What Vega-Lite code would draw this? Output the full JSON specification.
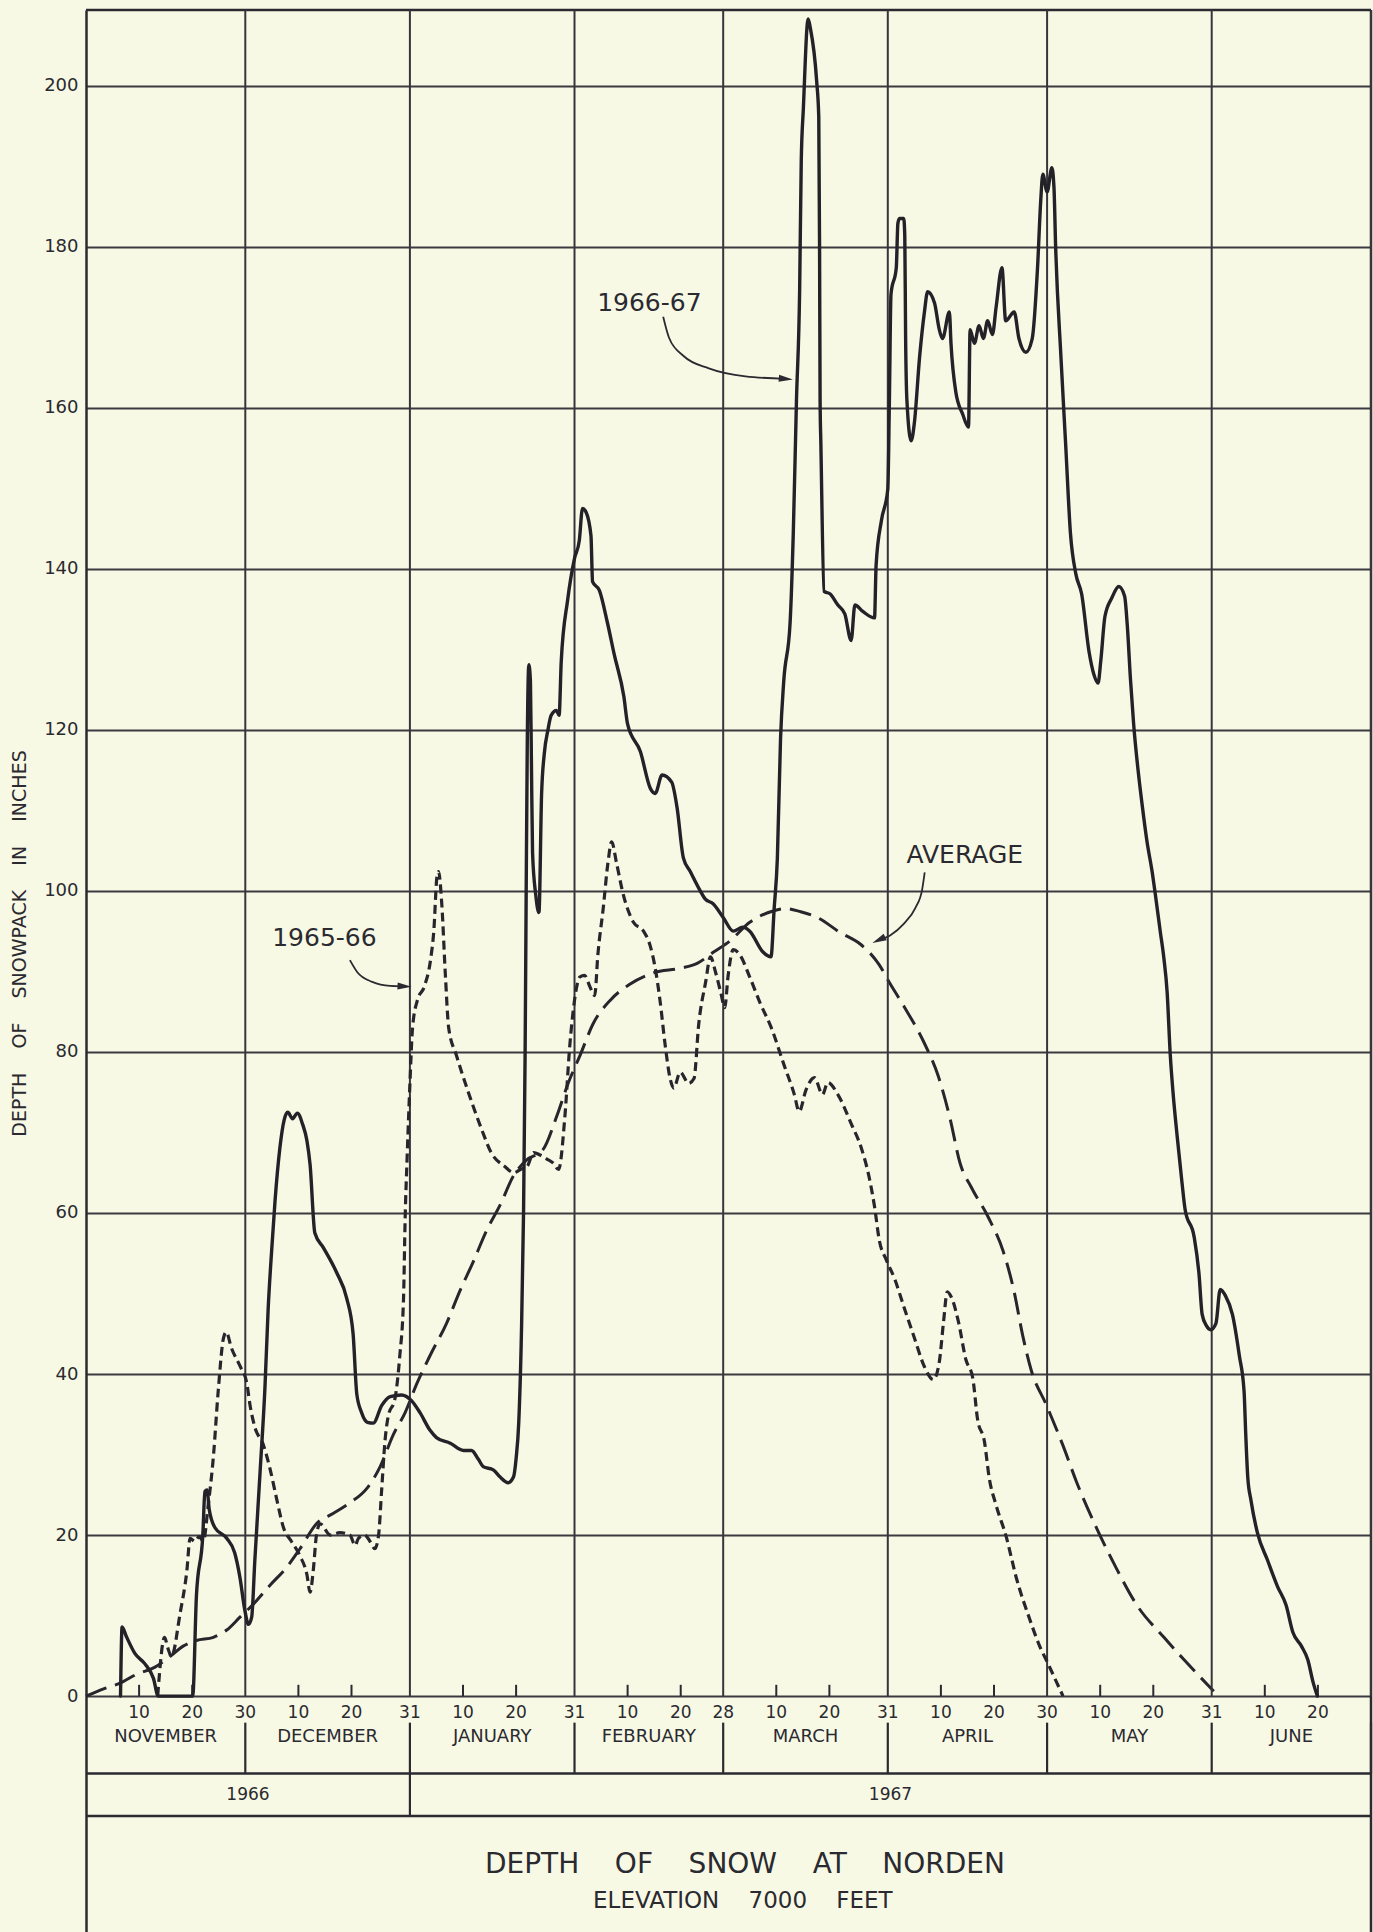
{
"$schema": "https://vega.github.io/schema/vega-lite/v6.json",
"width": 1285,
"height": 1922,
"autosize": {"type": "none"},
"padding": {"left": 86, "top": 10, "right": 2, "bottom": 0},
"background": "#F8F9E5",
"config": {"view": {"stroke": null}, "font": "DejaVu Sans", "text": {"font": "DejaVu Sans", "color": "#2a2a30"}},
"datasets": {
"s6667": [{"day":6.5,"val":0},{"day":6.8,"val":8.6},{"day":7.6,"val":7.4},{"day":9.2,"val":5.3},{"day":11.1,"val":4.0},{"day":12.7,"val":2.2},{"day":13.6,"val":0},{"day":20.1,"val":0},{"day":20.8,"val":12.5},{"day":22.0,"val":20},{"day":22.4,"val":25.4},{"day":22.8,"val":25.6},{"day":23.2,"val":23.2},{"day":24.3,"val":20.9},{"day":26.5,"val":19.6},{"day":28.0,"val":17.8},{"day":29.0,"val":14.7},{"day":29.9,"val":10.7},{"day":30.6,"val":8.9},{"day":31.2,"val":9.8},{"day":31.8,"val":16.9},{"day":32.8,"val":28},{"day":33.7,"val":38.3},{"day":34.3,"val":48},{"day":35.0,"val":55.7},{"day":35.6,"val":61.5},{"day":36.5,"val":68},{"day":37.3,"val":71.5},{"day":38.0,"val":72.5},{"day":38.9,"val":71.7},{"day":39.8,"val":72.4},{"day":40.8,"val":71},{"day":41.6,"val":69},{"day":42.2,"val":66},{"day":43.1,"val":57.5},{"day":44.7,"val":55.7},{"day":47.2,"val":52.6},{"day":49.1,"val":49.4},{"day":50.3,"val":45},{"day":51.0,"val":37.5},{"day":51.9,"val":35.2},{"day":53.0,"val":34.0},{"day":54.1,"val":33.9},{"day":55.7,"val":36.1},{"day":57.3,"val":37.2},{"day":59.4,"val":37.4},{"day":61.3,"val":36.7},{"day":62.9,"val":35.2},{"day":64.8,"val":33},{"day":66.0,"val":32.1},{"day":68.6,"val":31.4},{"day":71.1,"val":30.5},{"day":72.6,"val":30.5},{"day":73.9,"val":29.4},{"day":74.8,"val":28.5},{"day":76.7,"val":28.1},{"day":78.0,"val":27.2},{"day":79.5,"val":26.5},{"day":80.5,"val":27.2},{"day":81.0,"val":29.5},{"day":81.5,"val":34},{"day":82.0,"val":45},{"day":82.4,"val":60},{"day":82.7,"val":80},{"day":82.9,"val":100},{"day":83.1,"val":118},{"day":83.4,"val":128.1},{"day":83.7,"val":126},{"day":83.9,"val":115},{"day":84.1,"val":104.7},{"day":84.7,"val":99.5},{"day":85.3,"val":97.3},{"day":85.8,"val":112},{"day":86.3,"val":117},{"day":87.0,"val":120},{"day":87.6,"val":121.8},{"day":88.6,"val":122.4},{"day":89.1,"val":121.8},{"day":89.5,"val":128.5},{"day":90.7,"val":136.1},{"day":92.0,"val":141.3},{"day":92.9,"val":143.5},{"day":93.5,"val":147.5},{"day":94.2,"val":147},{"day":95.1,"val":144.1},{"day":95.4,"val":138.4},{"day":96.7,"val":137.3},{"day":98.2,"val":133.3},{"day":99.5,"val":129.3},{"day":101.3,"val":124.1},{"day":102.0,"val":120.7},{"day":104.4,"val":117.3},{"day":106.3,"val":112.7},{"day":107.2,"val":112.1},{"day":108.5,"val":114.4},{"day":110.3,"val":113.5},{"day":111.3,"val":110.4},{"day":112.5,"val":104.1},{"day":113.8,"val":102.4},{"day":115.6,"val":100.1},{"day":116.6,"val":99},{"day":118.1,"val":98.4},{"day":120.0,"val":96.7},{"day":121.9,"val":95},{"day":123.7,"val":95.5},{"day":125.0,"val":95},{"day":127.5,"val":92.4},{"day":129.0,"val":91.8},{"day":129.6,"val":97.8},{"day":130.2,"val":104},{"day":130.8,"val":118.9},{"day":131.4,"val":126},{"day":132.6,"val":133.3},{"day":133.2,"val":144.4},{"day":133.8,"val":160.9},{"day":134.4,"val":174.7},{"day":134.7,"val":190.6},{"day":135.1,"val":197.2},{"day":136.0,"val":208.3},{"day":136.4,"val":207.2},{"day":137.6,"val":200.6},{"day":138.0,"val":196.1},{"day":138.15,"val":180},{"day":138.25,"val":160.9},{"day":138.4,"val":155.4},{"day":139.0,"val":137.2},{"day":140.1,"val":136.9},{"day":141.6,"val":135.5},{"day":142.9,"val":134.4},{"day":144.1,"val":131.1},{"day":144.8,"val":135.5},{"day":146.3,"val":134.7},{"day":148.5,"val":133.9},{"day":148.8,"val":140.5},{"day":149.8,"val":146},{"day":151.0,"val":149.9},{"day":151.3,"val":160.9},{"day":151.6,"val":174.1},{"day":152.6,"val":177.4},{"day":152.9,"val":182.9},{"day":153.2,"val":183.5},{"day":154.0,"val":183.5},{"day":154.2,"val":181.3},{"day":154.35,"val":169.1},{"day":154.6,"val":160.9},{"day":155.4,"val":155.9},{"day":156.0,"val":158.1},{"day":157.0,"val":166.4},{"day":157.9,"val":171.9},{"day":158.5,"val":174.4},{"day":159.8,"val":173},{"day":160.7,"val":169.7},{"day":161.3,"val":168.6},{"day":162.6,"val":171.9},{"day":162.9,"val":168},{"day":163.8,"val":162},{"day":165.1,"val":159.2},{"day":166.2,"val":157.6},{"day":166.5,"val":169.7},{"day":167.3,"val":168},{"day":168.2,"val":170.2},{"day":169.0,"val":168.6},{"day":169.8,"val":170.8},{"day":170.7,"val":169.1},{"day":171.4,"val":172.5},{"day":172.5,"val":177.4},{"day":173.2,"val":170.8},{"day":174.8,"val":171.9},{"day":175.7,"val":168.6},{"day":177.0,"val":166.9},{"day":178.2,"val":168.6},{"day":179.2,"val":177.4},{"day":179.8,"val":185.7},{"day":180.2,"val":189},{"day":181.0,"val":186.8},{"day":181.9,"val":189.8},{"day":182.3,"val":187.3},{"day":182.6,"val":180.2},{"day":183.6,"val":166.4},{"day":184.5,"val":155.4},{"day":185.4,"val":144.4},{"day":186.4,"val":139.4},{"day":187.5,"val":136.9},{"day":188.9,"val":129.7},{"day":189.8,"val":126.9},{"day":190.6,"val":125.8},{"day":191.1,"val":128.5},{"day":191.9,"val":134.1},{"day":193.2,"val":136.4},{"day":194.5,"val":137.8},{"day":195.6,"val":136.6},{"day":196.1,"val":133},{"day":196.7,"val":126.3},{"day":197.3,"val":120.7},{"day":198.3,"val":114},{"day":198.9,"val":110.7},{"day":199.8,"val":106.2},{"day":200.8,"val":102.3},{"day":201.4,"val":99.5},{"day":202.3,"val":95},{"day":203.0,"val":91.6},{"day":203.6,"val":87.5},{"day":204.2,"val":79.6},{"day":204.7,"val":75.1},{"day":205.5,"val":69.5},{"day":206.4,"val":63.8},{"day":207.0,"val":60.4},{"day":208.7,"val":57},{"day":209.6,"val":52.5},{"day":210.2,"val":47.4},{"day":211.0,"val":46},{"day":211.8,"val":45.5},{"day":212.8,"val":46.3},{"day":213.6,"val":50.5},{"day":214.6,"val":49.7},{"day":215.9,"val":47.4},{"day":217.2,"val":42.3},{"day":218.1,"val":37.8},{"day":218.4,"val":32.7},{"day":218.8,"val":27.1},{"day":219.4,"val":24.3},{"day":220.6,"val":20.3},{"day":222.5,"val":16.9},{"day":224.4,"val":13.6},{"day":226.0,"val":11.3},{"day":227.3,"val":7.9},{"day":228.9,"val":6.2},{"day":230.1,"val":4.5},{"day":231.1,"val":1.7},{"day":231.9,"val":0}],
"s6566": [{"day":13.5,"val":0},{"day":14.8,"val":7.3},{"day":15.4,"val":6},{"day":16.1,"val":4.9},{"day":17.7,"val":10.2},{"day":19.0,"val":15.6},{"day":19.6,"val":19.6},{"day":20.5,"val":19.2},{"day":21.3,"val":19.8},{"day":22.1,"val":19.2},{"day":23.0,"val":23.6},{"day":24.0,"val":29.8},{"day":24.9,"val":37.9},{"day":25.9,"val":44.5},{"day":26.4,"val":45.2},{"day":27.4,"val":43.2},{"day":29.0,"val":41},{"day":30.3,"val":38.8},{"day":30.9,"val":36.1},{"day":31.8,"val":33.4},{"day":33.4,"val":31.2},{"day":34.7,"val":28.1},{"day":35.9,"val":24.5},{"day":37.2,"val":20.9},{"day":38.7,"val":19.2},{"day":40.3,"val":17.4},{"day":41.6,"val":15.1},{"day":42.2,"val":12.9},{"day":42.8,"val":15.6},{"day":43.4,"val":20},{"day":44.1,"val":21.4},{"day":46.0,"val":20},{"day":47.8,"val":20.3},{"day":49.7,"val":20},{"day":50.7,"val":18.7},{"day":51.3,"val":19.6},{"day":52.5,"val":20},{"day":53.5,"val":19.2},{"day":54.4,"val":18.3},{"day":55.1,"val":20},{"day":55.7,"val":25.8},{"day":56.3,"val":31.6},{"day":56.9,"val":34.7},{"day":58.2,"val":37},{"day":59.1,"val":42.3},{"day":59.8,"val":49.4},{"day":60.1,"val":59.2},{"day":60.5,"val":67.3},{"day":61.0,"val":76},{"day":61.5,"val":83},{"day":62.4,"val":86.4},{"day":63.7,"val":88.1},{"day":64.9,"val":91.5},{"day":65.5,"val":95},{"day":66.1,"val":101.8},{"day":66.4,"val":102.4},{"day":67.0,"val":98.4},{"day":67.7,"val":89.3},{"day":68.3,"val":83},{"day":69.8,"val":79.5},{"day":72.0,"val":75},{"day":74.5,"val":70.4},{"day":76.3,"val":67.5},{"day":78.8,"val":65.8},{"day":80.6,"val":65},{"day":81.8,"val":65.4},{"day":83.1,"val":65.8},{"day":84.3,"val":67.5},{"day":85.5,"val":67.2},{"day":86.8,"val":66.7},{"day":88.0,"val":66.2},{"day":89.0,"val":65.4},{"day":90.2,"val":72.1},{"day":91.1,"val":80.7},{"day":92.0,"val":86.4},{"day":93.0,"val":89.3},{"day":93.9,"val":89.5},{"day":94.9,"val":88.1},{"day":95.8,"val":87},{"day":96.4,"val":92.1},{"day":97.4,"val":97.8},{"day":98.3,"val":103.5},{"day":99.0,"val":106.1},{"day":99.9,"val":103.5},{"day":101.2,"val":99.5},{"day":103.1,"val":96.1},{"day":105.0,"val":95},{"day":106.2,"val":93.3},{"day":107.2,"val":90.4},{"day":108.1,"val":86.4},{"day":109.1,"val":80.7},{"day":110.0,"val":76.7},{"day":110.7,"val":75.5},{"day":111.9,"val":77.5},{"day":113.5,"val":76.1},{"day":114.5,"val":76.7},{"day":115.4,"val":83.5},{"day":116.7,"val":88.7},{"day":117.6,"val":91.8},{"day":118.6,"val":89.8},{"day":119.5,"val":87.5},{"day":120.3,"val":85.5},{"day":120.9,"val":89.3},{"day":121.9,"val":92.7},{"day":123.1,"val":92.1},{"day":125.0,"val":89.3},{"day":127.0,"val":86},{"day":129.0,"val":83.1},{"day":131.5,"val":78.3},{"day":133.4,"val":74.7},{"day":134.3,"val":72.6},{"day":135.6,"val":75.3},{"day":137.2,"val":76.8},{"day":138.7,"val":74.7},{"day":139.7,"val":76.2},{"day":141.6,"val":74.7},{"day":144.1,"val":71.1},{"day":146.0,"val":68.1},{"day":147.5,"val":64.4},{"day":148.5,"val":60.8},{"day":149.4,"val":56.6},{"day":150.7,"val":54.2},{"day":152.3,"val":51.8},{"day":154.1,"val":48.2},{"day":156.0,"val":44.5},{"day":157.9,"val":40.9},{"day":159.6,"val":39.3},{"day":160.7,"val":41.5},{"day":161.5,"val":46.5},{"day":162.2,"val":50.2},{"day":163.0,"val":49.5},{"day":164.3,"val":46.5},{"day":165.7,"val":41.8},{"day":167.0,"val":39.5},{"day":167.9,"val":34.4},{"day":169.2,"val":31.6},{"day":170.1,"val":27.1},{"day":171.4,"val":23.7},{"day":173.3,"val":19.8},{"day":175.2,"val":14.7},{"day":177.7,"val":9.6},{"day":179.6,"val":6.2},{"day":181.2,"val":4},{"day":182.8,"val":1.7},{"day":184.0,"val":0}],
"avg": [{"day":0,"val":0},{"day":3.3,"val":0.9},{"day":6.4,"val":1.6},{"day":9.5,"val":2.7},{"day":13.0,"val":3.6},{"day":15.8,"val":4.9},{"day":18.3,"val":6.2},{"day":20.8,"val":6.9},{"day":24.0,"val":7.3},{"day":26.5,"val":8.2},{"day":29.0,"val":9.8},{"day":31.5,"val":11.4},{"day":34.7,"val":13.8},{"day":37.8,"val":16},{"day":40.3,"val":18.3},{"day":43.4,"val":21.4},{"day":46.6,"val":22.7},{"day":49.7,"val":24},{"day":52.9,"val":25.8},{"day":55.4,"val":28.5},{"day":57.9,"val":32.5},{"day":60.1,"val":35.2},{"day":62.3,"val":38.8},{"day":64.8,"val":42.3},{"day":67.9,"val":46.3},{"day":70.4,"val":50.3},{"day":72.9,"val":53.9},{"day":75.5,"val":57.9},{"day":78.0,"val":61},{"day":80.5,"val":64.6},{"day":83.0,"val":66.6},{"day":86.0,"val":67.8},{"day":88.7,"val":72.1},{"day":90.8,"val":76.1},{"day":93.0,"val":79.5},{"day":95.5,"val":83.5},{"day":98.7,"val":86.4},{"day":102.4,"val":88.4},{"day":106.8,"val":89.8},{"day":112.0,"val":90.4},{"day":115.1,"val":91},{"day":118.2,"val":92.4},{"day":121.3,"val":93.8},{"day":125.0,"val":96.1},{"day":129.4,"val":97.5},{"day":131.8,"val":97.8},{"day":134.6,"val":97.4},{"day":137.7,"val":96.7},{"day":142.1,"val":94.8},{"day":145.8,"val":93.4},{"day":149.3,"val":90.9},{"day":151.5,"val":88.4},{"day":154.0,"val":85.7},{"day":157.8,"val":81.2},{"day":160.5,"val":77},{"day":162.7,"val":71.8},{"day":164.6,"val":66.2},{"day":166.8,"val":63.1},{"day":169.9,"val":59.5},{"day":172.7,"val":55.3},{"day":174.8,"val":50.2},{"day":176.4,"val":44.8},{"day":178.0,"val":40.5},{"day":180.9,"val":36.1},{"day":184.0,"val":31.1},{"day":186.6,"val":26.5},{"day":190.3,"val":20.9},{"day":194.1,"val":15.8},{"day":197.9,"val":11.3},{"day":203.0,"val":7.3},{"day":206.8,"val":4.5},{"day":212.4,"val":0.6}],
"months": [{"month":"NOVEMBER","end":30,"mid":15},{"month":"DECEMBER","end":61,"mid":45.5},{"month":"JANUARY","end":92,"mid":76.5},{"month":"FEBRUARY","end":120,"mid":106},{"month":"MARCH","end":151,"mid":135.5},{"month":"APRIL","end":181,"mid":166},{"month":"MAY","end":212,"mid":196.5},{"month":"JUNE","end":242,"mid":227}],
"ticks": [{"day":10,"label":"10","kind":"mid"},{"day":20,"label":"20","kind":"mid"},{"day":30,"label":"30","kind":"end"},{"day":40,"label":"10","kind":"mid"},{"day":50,"label":"20","kind":"mid"},{"day":61,"label":"31","kind":"end"},{"day":71,"label":"10","kind":"mid"},{"day":81,"label":"20","kind":"mid"},{"day":92,"label":"31","kind":"end"},{"day":102,"label":"10","kind":"mid"},{"day":112,"label":"20","kind":"mid"},{"day":120,"label":"28","kind":"end"},{"day":130,"label":"10","kind":"mid"},{"day":140,"label":"20","kind":"mid"},{"day":151,"label":"31","kind":"end"},{"day":161,"label":"10","kind":"mid"},{"day":171,"label":"20","kind":"mid"},{"day":181,"label":"30","kind":"end"},{"day":191,"label":"10","kind":"mid"},{"day":201,"label":"20","kind":"mid"},{"day":212,"label":"31","kind":"end"},{"day":222,"label":"10","kind":"mid"},{"day":232,"label":"20","kind":"mid"}],
"years": [{"year":"1966","mid":30.5},{"year":"1967","mid":151.5}],
"notes": [{"label":"1966-67","day":106.1,"val":173.0},{"label":"1965-66","day":44.9,"val":94.2},{"label":"AVERAGE","day":165.5,"val":104.5}],
"arrows": [{"arrow":"1966-67","day":108.7,"val":171.3},{"arrow":"1966-67","day":109.8,"val":168.7},{"arrow":"1966-67","day":112.6,"val":166.4},{"arrow":"1966-67","day":117.3,"val":164.9},{"arrow":"1966-67","day":124.2,"val":163.9},{"arrow":"1966-67","day":131.8,"val":163.6},{"arrow":"1965-66","day":49.7,"val":91.4},{"arrow":"1965-66","day":51.1,"val":89.9},{"arrow":"1965-66","day":53.9,"val":88.7},{"arrow":"1965-66","day":57.3,"val":88.2},{"arrow":"1965-66","day":60.0,"val":88.15},{"arrow":"AVERAGE","day":157.95,"val":102.3},{"arrow":"AVERAGE","day":157.45,"val":100.1},{"arrow":"AVERAGE","day":156.2,"val":97.9},{"arrow":"AVERAGE","day":154.0,"val":95.9},{"arrow":"AVERAGE","day":151.5,"val":94.5},{"arrow":"AVERAGE","day":149.3,"val":93.9}],
"heads": [{"arrow":"1966-67","day":131.8,"val":163.6},{"arrow":"1965-66","day":60.0,"val":88.15},{"arrow":"AVERAGE","day":149.3,"val":93.9}]
},
"layer": [
{"data": {"name": "avg"}, "mark": {"type": "line", "color": "#26262c", "strokeWidth": 3, "interpolate": "monotone", "strokeDash": [22, 9]},
 "encoding": {"x": {"field": "day", "type": "quantitative", "scale": {"domain": [0, 242], "nice": false, "zero": false}, "axis": null},
  "y": {"field": "val", "type": "quantitative", "scale": {"domain": [-29.3, 209.4], "nice": false, "zero": false},
   "axis": {"orient": "left", "values": [0, 20, 40, 60, 80, 100, 120, 140, 160, 180, 200], "grid": true, "gridColor": "#3a3a40", "gridWidth": 1.8, "gridOpacity": 1,
    "domain": true, "domainColor": "#2a2a30", "domainWidth": 2.5, "ticks": false,
    "labelFont": "DejaVu Sans", "labelFontSize": 18, "labelColor": "#2a2a30", "labelPadding": 8,
    "title": "DEPTH\u00a0\u00a0\u00a0\u00a0OF\u00a0\u00a0\u00a0\u00a0SNOWPACK\u00a0\u00a0\u00a0\u00a0IN\u00a0\u00a0\u00a0\u00a0INCHES",
    "titleFont": "DejaVu Sans", "titleFontSize": 19, "titleFontWeight": "normal", "titleColor": "#2a2a30",
    "titleX": -67, "titleY": 933, "titleAngle": 270, "titleAlign": "center", "titleBaseline": "middle"}}}},
{"data": {"values": [{}]}, "mark": {"type": "rule", "color": "#2a2a30", "strokeWidth": 2.5},
 "encoding": {"y": {"datum": 209.4, "type": "quantitative", "scale": {"domain": [-29.3, 209.4]}}}},
{"data": {"values": [{}]}, "mark": {"type": "rule", "color": "#2a2a30", "strokeWidth": 2.5},
 "encoding": {"y": {"datum": -9.6, "type": "quantitative", "scale": {"domain": [-29.3, 209.4]}}}},
{"data": {"values": [{}]}, "mark": {"type": "rule", "color": "#2a2a30", "strokeWidth": 2.5},
 "encoding": {"y": {"datum": -14.9, "type": "quantitative", "scale": {"domain": [-29.3, 209.4]}}}},
{"data": {"values": [{}]}, "mark": {"type": "rule", "color": "#2a2a30", "strokeWidth": 2.5},
 "encoding": {"x": {"datum": 242, "type": "quantitative", "scale": {"domain": [0, 242]}, "axis": null}}},
{"data": {"name": "months"}, "mark": {"type": "rule", "color": "#35353b", "strokeWidth": 2},
 "encoding": {"x": {"field": "end", "type": "quantitative", "scale": {"domain": [0, 242]}, "axis": null},
  "y": {"datum": 0, "type": "quantitative", "scale": {"domain": [-29.3, 209.4]}},
  "y2": {"datum": 209.4}}},
{"data": {"name": "months"}, "mark": {"type": "rule", "color": "#2a2a30", "strokeWidth": 2.2},
 "encoding": {"x": {"field": "end", "type": "quantitative", "scale": {"domain": [0, 242]}, "axis": null},
  "y": {"datum": -3.3, "type": "quantitative", "scale": {"domain": [-29.3, 209.4]}},
  "y2": {"datum": -9.6}}},
{"data": {"values": [{}]}, "mark": {"type": "rule", "color": "#2a2a30", "strokeWidth": 2.2},
 "encoding": {"x": {"datum": 61, "type": "quantitative", "scale": {"domain": [0, 242]}, "axis": null},
  "y": {"datum": -9.6, "type": "quantitative", "scale": {"domain": [-29.3, 209.4]}},
  "y2": {"datum": -14.9}}},
{"data": {"name": "ticks"}, "transform": [{"filter": "datum.kind == 'mid'"}], "mark": {"type": "rule", "color": "#2a2a30", "strokeWidth": 2},
 "encoding": {"x": {"field": "day", "type": "quantitative", "scale": {"domain": [0, 242]}, "axis": null},
  "y": {"datum": 0, "type": "quantitative", "scale": {"domain": [-29.3, 209.4]}},
  "y2": {"datum": 1.4}}},
{"data": {"name": "ticks"}, "mark": {"type": "text", "fontSize": 17, "baseline": "middle", "align": "center", "color": "#2a2a30"},
 "encoding": {"x": {"field": "day", "type": "quantitative", "scale": {"domain": [0, 242]}, "axis": null},
  "y": {"datum": -2.1, "type": "quantitative", "scale": {"domain": [-29.3, 209.4]}},
  "text": {"field": "label"}}},
{"data": {"name": "months"}, "mark": {"type": "text", "fontSize": 18, "baseline": "middle", "align": "center", "color": "#2a2a30"},
 "encoding": {"x": {"field": "mid", "type": "quantitative", "scale": {"domain": [0, 242]}, "axis": null},
  "y": {"datum": -5.1, "type": "quantitative", "scale": {"domain": [-29.3, 209.4]}},
  "text": {"field": "month"}}},
{"data": {"name": "years"}, "mark": {"type": "text", "fontSize": 17, "baseline": "middle", "align": "center", "color": "#2a2a30"},
 "encoding": {"x": {"field": "mid", "type": "quantitative", "scale": {"domain": [0, 242]}, "axis": null},
  "y": {"datum": -12.3, "type": "quantitative", "scale": {"domain": [-29.3, 209.4]}},
  "text": {"field": "year"}}},
{"data": {"values": [{}]}, "mark": {"type": "text", "fontSize": 28, "baseline": "middle", "align": "center", "color": "#2a2a30", "text": "DEPTH\u00a0\u00a0\u00a0\u00a0OF\u00a0\u00a0\u00a0\u00a0SNOW\u00a0\u00a0\u00a0\u00a0AT\u00a0\u00a0\u00a0\u00a0NORDEN"},
 "encoding": {"x": {"datum": 124.1, "type": "quantitative", "scale": {"domain": [0, 242]}, "axis": null},
  "y": {"datum": -21.0, "type": "quantitative", "scale": {"domain": [-29.3, 209.4]}}}},
{"data": {"values": [{}]}, "mark": {"type": "text", "fontSize": 23, "baseline": "middle", "align": "center", "color": "#2a2a30", "text": "ELEVATION\u00a0\u00a0\u00a0\u00a07000\u00a0\u00a0\u00a0\u00a0FEET"},
 "encoding": {"x": {"datum": 123.7, "type": "quantitative", "scale": {"domain": [0, 242]}, "axis": null},
  "y": {"datum": -25.5, "type": "quantitative", "scale": {"domain": [-29.3, 209.4]}}}},
{"data": {"name": "s6566"}, "mark": {"type": "line", "color": "#26262c", "strokeWidth": 3.2, "interpolate": "monotone", "strokeDash": [9, 5]},
 "encoding": {"x": {"field": "day", "type": "quantitative", "scale": {"domain": [0, 242]}, "axis": null},
  "y": {"field": "val", "type": "quantitative", "scale": {"domain": [-29.3, 209.4]}}}},
{"data": {"name": "s6667"}, "mark": {"type": "line", "color": "#222228", "strokeWidth": 3.4, "interpolate": "monotone", "strokeJoin": "round", "strokeCap": "round"},
 "encoding": {"x": {"field": "day", "type": "quantitative", "scale": {"domain": [0, 242]}, "axis": null},
  "y": {"field": "val", "type": "quantitative", "scale": {"domain": [-29.3, 209.4]}}}},
{"data": {"name": "arrows"}, "mark": {"type": "line", "color": "#2a2a30", "strokeWidth": 1.8, "interpolate": "monotone"},
 "encoding": {"x": {"field": "day", "type": "quantitative", "scale": {"domain": [0, 242]}, "axis": null},
  "y": {"field": "val", "type": "quantitative", "scale": {"domain": [-29.3, 209.4]}},
  "detail": {"field": "arrow"}}},
{"data": {"name": "heads"}, "transform": [{"filter": "datum.arrow == '1966-67'"}],
 "mark": {"type": "point", "shape": "M-1,-0.5L1,0L-1,0.5Z", "filled": true, "color": "#2a2a30", "opacity": 1, "size": 200, "angle": 5},
 "encoding": {"x": {"field": "day", "type": "quantitative", "scale": {"domain": [0, 242]}, "axis": null},
  "y": {"field": "val", "type": "quantitative", "scale": {"domain": [-29.3, 209.4]}}}},
{"data": {"name": "heads"}, "transform": [{"filter": "datum.arrow == '1965-66'"}],
 "mark": {"type": "point", "shape": "M-1,-0.5L1,0L-1,0.5Z", "filled": true, "color": "#2a2a30", "opacity": 1, "size": 200, "angle": 3},
 "encoding": {"x": {"field": "day", "type": "quantitative", "scale": {"domain": [0, 242]}, "axis": null},
  "y": {"field": "val", "type": "quantitative", "scale": {"domain": [-29.3, 209.4]}}}},
{"data": {"name": "heads"}, "transform": [{"filter": "datum.arrow == 'AVERAGE'"}],
 "mark": {"type": "point", "shape": "M-1,-0.5L1,0L-1,0.5Z", "filled": true, "color": "#2a2a30", "opacity": 1, "size": 200, "angle": 155},
 "encoding": {"x": {"field": "day", "type": "quantitative", "scale": {"domain": [0, 242]}, "axis": null},
  "y": {"field": "val", "type": "quantitative", "scale": {"domain": [-29.3, 209.4]}}}},
{"data": {"name": "notes"}, "mark": {"type": "text", "fontSize": 25, "baseline": "middle", "align": "center", "color": "#2a2a30"},
 "encoding": {"x": {"field": "day", "type": "quantitative", "scale": {"domain": [0, 242]}, "axis": null},
  "y": {"field": "val", "type": "quantitative", "scale": {"domain": [-29.3, 209.4]}},
  "text": {"field": "label"}}}
]
}
